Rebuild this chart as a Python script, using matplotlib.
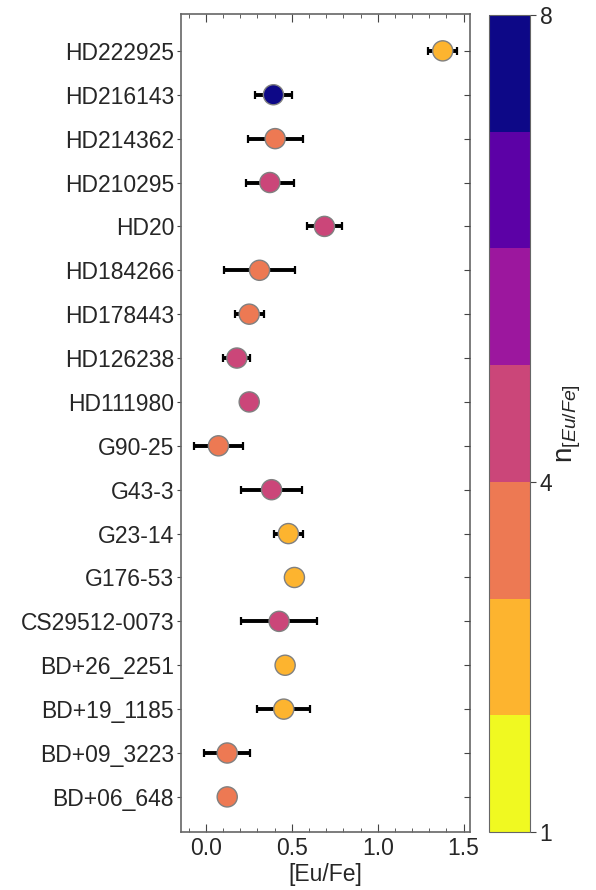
import numpy as np
import matplotlib
matplotlib.use("Agg")
import matplotlib.pyplot as plt
from matplotlib.colors import ListedColormap, BoundaryNorm
from matplotlib.ticker import MultipleLocator

plt.rcParams['font.family'] = ['Liberation Sans', 'DejaVu Sans']
plt.rcParams['mathtext.fontset'] = 'custom'
plt.rcParams['mathtext.rm'] = 'Liberation Sans'
plt.rcParams['mathtext.it'] = 'Liberation Sans:italic'

stars = ["HD222925", "HD216143", "HD214362", "HD210295", "HD20", "HD184266",
         "HD178443", "HD126238", "HD111980", "G90-25", "G43-3", "G23-14",
         "G176-53", "CS29512-0073", "BD+26_2251", "BD+19_1185", "BD+09_3223",
         "BD+06_648"]
eufe = [1.378, 0.393, 0.403, 0.372, 0.690, 0.312, 0.252, 0.180, 0.252, 0.073,
        0.382, 0.480, 0.515, 0.426, 0.461, 0.453, 0.124, 0.124]
err = [0.083, 0.110, 0.160, 0.140, 0.100, 0.205, 0.085, 0.078, 0.0, 0.140,
       0.175, 0.083, 0.0, 0.220, 0.0, 0.155, 0.135, 0.0]
nlines = [2, 8, 3, 4, 4, 3, 3, 4, 4, 3, 4, 2, 2, 4, 2, 2, 3, 3]

TXT = '#262626'
fig = plt.figure(figsize=(5.96, 8.90), dpi=100)
ax = fig.add_axes([181/596, 1-832/890, (470-181)/596, (832-14)/890])
cax = fig.add_axes([489/596, 1-832/890, (530-489)/596, (832-15)/890])

N = len(stars)
ypos = np.arange(N)[::-1]
cmap = ListedColormap(plt.get_cmap('plasma_r')(np.linspace(0, 1, 7)))
norm = BoundaryNorm(np.arange(1, 9), cmap.N, clip=True)

x = np.array(eufe)
e = np.array(err)
has = e > 0
ax.errorbar(x[has], ypos[has], xerr=e[has], fmt='none', ecolor='black',
            elinewidth=2.8, capsize=2.6, capthick=1.6, zorder=2)
sc = ax.scatter(x, ypos, c=np.minimum(np.array(nlines), 7.5), cmap=cmap, norm=norm,
                s=210, edgecolors='grey', linewidths=1.0, zorder=3)

ax.set_xlim(-0.145, 1.537)
ax.set_ylim(-0.8, 17.84)
ax.set_yticks(ypos)
ax.set_yticklabels(stars, fontsize=16.5, color=TXT)
ax.xaxis.set_major_locator(MultipleLocator(0.5))
ax.xaxis.set_minor_locator(MultipleLocator(0.1))
ax.tick_params(axis='x', which='both', direction='in', top=True, bottom=True,
               labelsize=16.5, labelcolor=TXT, color='#444444')
ax.tick_params(axis='x', which='major', length=6)
ax.tick_params(axis='x', which='minor', length=3)
ax.tick_params(axis='y', direction='out', left=True, right=False, length=3,
               color='#444444', pad=2)
ax.set_xlabel('[Eu/Fe]', fontsize=16.5, color=TXT, labelpad=2)
for sp in ax.spines.values():
    sp.set_color('#666666')
    sp.set_linewidth(1.2)

ax2 = ax.twinx()
ax2.set_ylim(ax.get_ylim())
ax2.set_yticks(ypos)
ax2.tick_params(axis='y', direction='in', length=4, labelright=False, color='#444444')
for sp in ax2.spines.values():
    sp.set_visible(False)

cb = fig.colorbar(sc, cax=cax, ticks=[1, 4, 8])
cb.ax.set_yticklabels(['1', '4', '8'])
cb.ax.tick_params(labelsize=16.5, labelcolor=TXT, length=4, color='#444444', pad=3)
cb.outline.set_edgecolor('#666666')
cb.set_label(r'n$_{[Eu/Fe]}$', fontsize=20, color=TXT, labelpad=2)
cb.ax.minorticks_off()

fig.savefig('out.png', dpi=100)
